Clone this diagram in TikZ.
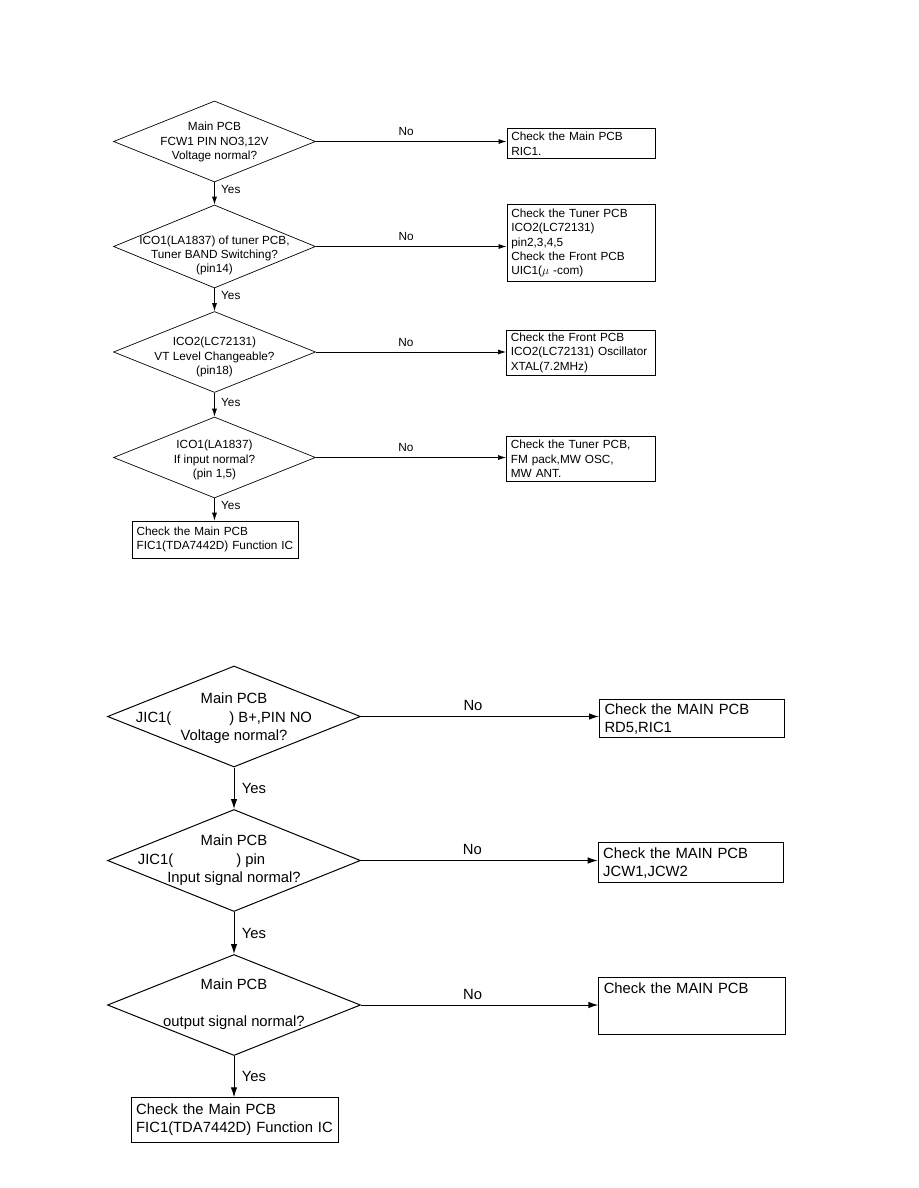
\documentclass[tikz,border=0pt]{standalone}
\usepackage{fontspec}
\setmainfont{Liberation Sans}
\usetikzlibrary{arrows.meta,shapes.geometric,calc}

\begin{document}
\begin{tikzpicture}[x=1pt, y=-1pt,
  every node/.style={font=\fontsize{11.8pt}{14.3pt}\selectfont},
  decision/.style={draw, diamond, inner sep=0pt, minimum width=202pt,
                   minimum height=81pt, line width=0.7pt},
  bigdecision/.style={decision, minimum width=253pt, minimum height=101pt,
                      line width=1pt},
  qtext/.style={align=center, inner sep=0pt},
  bigqtext/.style={qtext, font=\fontsize{14.8pt}{18.5pt}\selectfont},
  checkbox/.style 2 args={draw, anchor=north west, align=left, line width=0.7pt,
                          inner xsep=4.5pt, inner ysep=0pt,
                          text width=#1, minimum height=#2},
  bigcheckbox/.style 2 args={checkbox={#1}{#2}, inner xsep=5pt, line width=1pt,
                             font=\fontsize{14.8pt}{18pt}\selectfont},
  arrow/.style={-{Latex[length=8pt,width=5pt]}, line width=0.7pt},
  bigarrow/.style={-{Latex[length=10pt,width=6.5pt]}, line width=1pt},
  bigans/.style={font=\fontsize{14.8pt}{18pt}\selectfont},
]
\useasboundingbox (0,0) rectangle (918,1188);

%% ── Upper chart: decisions ────────────────────────────────────────────────
\node[decision] (d1) at (214.5,141.5) {};
\node[qtext] (q1) at ($(d1)+(0,0.5)$) {Main PCB\\FCW1 PIN NO3,12V\\Voltage normal?};
\node[decision, minimum height=83pt] (d2) at (214.5,246.5) {};
\node[qtext] (q2) at ($(d2)+(0,9)$) {ICO1(LA1837) of tuner PCB,\\Tuner BAND Switching?\\(pin14)};
\node[decision] (d3) at (214.5,352) {};
\node[qtext] (q3) at ($(d3)+(0,5)$) {ICO2(LC72131)\\VT Level Changeable?\\(pin18)};
\node[decision] (d4) at (214.5,457.5) {};
\node[qtext] (q4) at ($(d4)+(0,2.5)$) {ICO1(LA1837)\\If input normal?\\(pin 1,5)};

%% ── Upper chart: check boxes ──────────────────────────────────────────────
\node[checkbox={139pt}{30pt}] (r1) at (506.5,128.3) {Check the Main PCB\\RIC1.};
\node[checkbox={139pt}{77pt}] (r2) at (506.5,204.3)
  {Check the Tuner PCB\\ICO2(LC72131)\\pin2,3,4,5\\Check the Front PCB\\UIC1($\mu$\ -com)};
\node[checkbox={140pt}{45pt}] (r3) at (506,330)
  {Check the Front PCB\\ICO2(LC72131) Oscillator\\XTAL(7.2MHz)};
\node[checkbox={140pt}{45pt}] (r4) at (506,436)
  {Check the Tuner PCB,\\FM pack,MW OSC,\\MW ANT.};
\node[checkbox={157pt}{37.3pt}] (f1) at (131.7,520.7)
  {Check the Main PCB\\FIC1(TDA7442D) Function IC};

%% ── Upper chart: flow ─────────────────────────────────────────────────────
\draw[arrow] (d1.east) -- (d1.east -| r1.west) node[midway, above=2pt, xshift=-5pt] {No};
\draw[arrow] (d2.east) -- (d2.east -| r2.west) node[midway, above=2pt, xshift=-5pt] {No};
\draw[arrow] (d3.east) -- (d3.east -| r3.west) node[midway, above=2pt, xshift=-5pt] {No};
\draw[arrow] (d4.east) -- (d4.east -| r4.west) node[midway, above=2pt, xshift=-5pt] {No};
\draw[arrow] (d1.south) -- (d2.north) node[pos=0.3, right=3pt] {Yes};
\draw[arrow] (d2.south) -- (d3.north) node[pos=0.3, right=3pt] {Yes};
\draw[arrow] (d3.south) -- (d4.north) node[pos=0.4, right=3pt] {Yes};
\draw[arrow] (d4.south) -- (d4.south |- f1.north) node[pos=0.3, right=3pt] {Yes};

%% ── Lower chart: decisions ────────────────────────────────────────────────
\node[bigdecision] (d5) at (234,716.5) {};
\node[bigqtext] (q5) at ($(d5)+(0,2)$)
  {Main PCB\\JIC1(\hspace{58pt}) B+,PIN NO\hspace*{20pt}\mbox{}\\Voltage normal?};
\node[bigdecision, minimum height=102pt] (d6) at (234,860.5) {};
\node[bigqtext] (q6) at (d6)
  {Main PCB\\JIC1(\hspace{63pt}) pin\hspace*{65pt}\mbox{}\\Input signal normal?};
\node[bigdecision] (d7) at (234,1005) {};
\node[bigqtext] (q7) at ($(d7)+(0,-1)$) {Main PCB\\[19pt]output signal normal?};

%% ── Lower chart: check boxes ──────────────────────────────────────────────
\node[bigcheckbox={175.3pt}{38pt}] (r5) at (599,699.3) {Check the MAIN PCB\\RD5,RIC1};
\node[bigcheckbox={175.6pt}{40pt}] (r6) at (597.7,842.3) {Check the MAIN PCB\\JCW1,JCW2};
\node[bigcheckbox={176.7pt}{56.7pt}] (r7) at (598.3,977.3)
  {Check the MAIN PCB\\\mbox{}\\\mbox{}};
\node[bigcheckbox={197.6pt}{44.4pt}] (f2) at (130.7,1097.3)
  {Check the Main PCB\\\mbox{FIC1(TDA7442D) Function IC}};

%% ── Lower chart: flow ─────────────────────────────────────────────────────
\draw[bigarrow] (d5.east) -- (d5.east -| r5.west) node[bigans, midway, above=2pt, xshift=-7pt] {No};
\draw[bigarrow] (d6.east) -- (d6.east -| r6.west) node[bigans, midway, above=2pt, xshift=-7pt] {No};
\draw[bigarrow] (d7.east) -- (d7.east -| r7.west) node[bigans, midway, above=2pt, xshift=-7pt] {No};
\draw[bigarrow] (d5.south) -- (d6.north) node[bigans, midway, right=4pt] {Yes};
\draw[bigarrow] (d6.south) -- (d7.north) node[bigans, midway, right=4pt] {Yes};
\draw[bigarrow] (d7.south) -- (d7.south |- f2.north) node[bigans, midway, right=4pt] {Yes};

\end{tikzpicture}
\end{document}
